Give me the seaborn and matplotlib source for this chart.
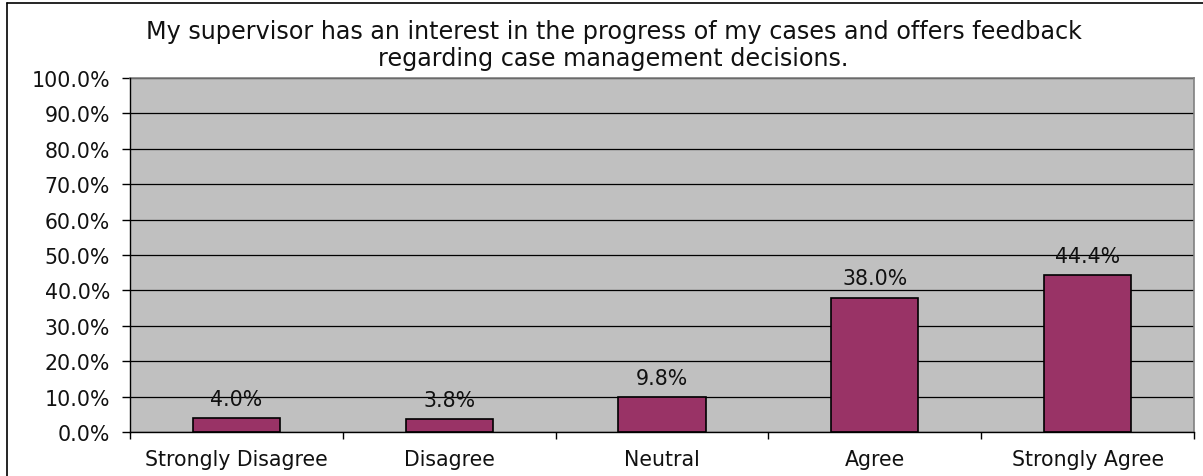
import matplotlib
matplotlib.use("Agg")
import matplotlib.pyplot as plt
from matplotlib.ticker import FixedLocator, PercentFormatter
import seaborn as sns
import pandas as pd

categories = ["Strongly Disagree", "Disagree", "Neutral", "Agree", "Strongly Agree"]
percentages = [4.0, 3.8, 9.8, 38.0, 44.4]
y_ticks = [0, 10, 20, 30, 40, 50, 60, 70, 80, 90, 100]
title_text = ("My supervisor has an interest in the progress of my cases and offers feedback\n"
              "regarding case management decisions.")

sns.set_theme(style="white")
plt.rcParams["font.family"] = ["DejaVu Sans"]

df = pd.DataFrame({"category": categories, "pct": percentages})

fig = plt.figure(figsize=(12.03, 4.77), dpi=100)
ax = fig.add_axes([0.1081, 0.0922, 0.8844, 0.7420])
ax.set_facecolor("#C0C0C0")

sns.barplot(data=df, x="category", y="pct", color="#993366", width=0.41,
            edgecolor="black", linewidth=1.2, saturation=1, ax=ax, zorder=3)

for i, v in enumerate(percentages):
    ax.annotate(f"{v:.1f}%", xy=(i, v), xytext=(0, 9.4), textcoords="offset points",
                ha="center", va="baseline", fontsize=14.8, color="#111111", zorder=4)

ax.set_ylim(0, 100)
ax.set_xlim(-0.5, len(categories) - 0.5)
ax.set_yticks(y_ticks)
ax.yaxis.set_major_formatter(PercentFormatter(decimals=1))
ax.yaxis.grid(True, color="black", linewidth=0.9, zorder=1)
ax.set_axisbelow(True)

ax.xaxis.set_minor_locator(FixedLocator([i - 0.5 for i in range(len(categories) + 1)]))
ax.tick_params(axis="x", which="major", length=0, pad=12, labelsize=14.8, colors="#111111")
ax.tick_params(axis="x", which="minor", length=5, width=1, color="black", direction="out", bottom=True)
ax.tick_params(axis="y", which="major", length=6, width=1, color="black", direction="out",
               left=True, labelsize=14.8, pad=8.5, colors="#111111")
ax.set_xlabel("")
ax.set_ylabel("")

for side in ("top", "right"):
    ax.spines[side].set_color("#808080")
    ax.spines[side].set_linewidth(1.2)
for side in ("left", "bottom"):
    ax.spines[side].set_color("black")
    ax.spines[side].set_linewidth(1.0)
    ax.spines[side].set_zorder(5)

fig.text(0.510, 0.905, title_text, ha="center", va="center", fontsize=17.2,
         color="#111111", linespacing=1.13)

# chart-area outline along the left and top edges
fig.add_artist(plt.Line2D([7 / 1203, 7 / 1203], [0, 1 - 4 / 477], transform=fig.transFigure,
                          color="black", linewidth=1.2))
fig.add_artist(plt.Line2D([7 / 1203, 1], [1 - 4 / 477, 1 - 4 / 477], transform=fig.transFigure,
                          color="black", linewidth=1.2))

fig.savefig("out.png", dpi=100, facecolor="white")
